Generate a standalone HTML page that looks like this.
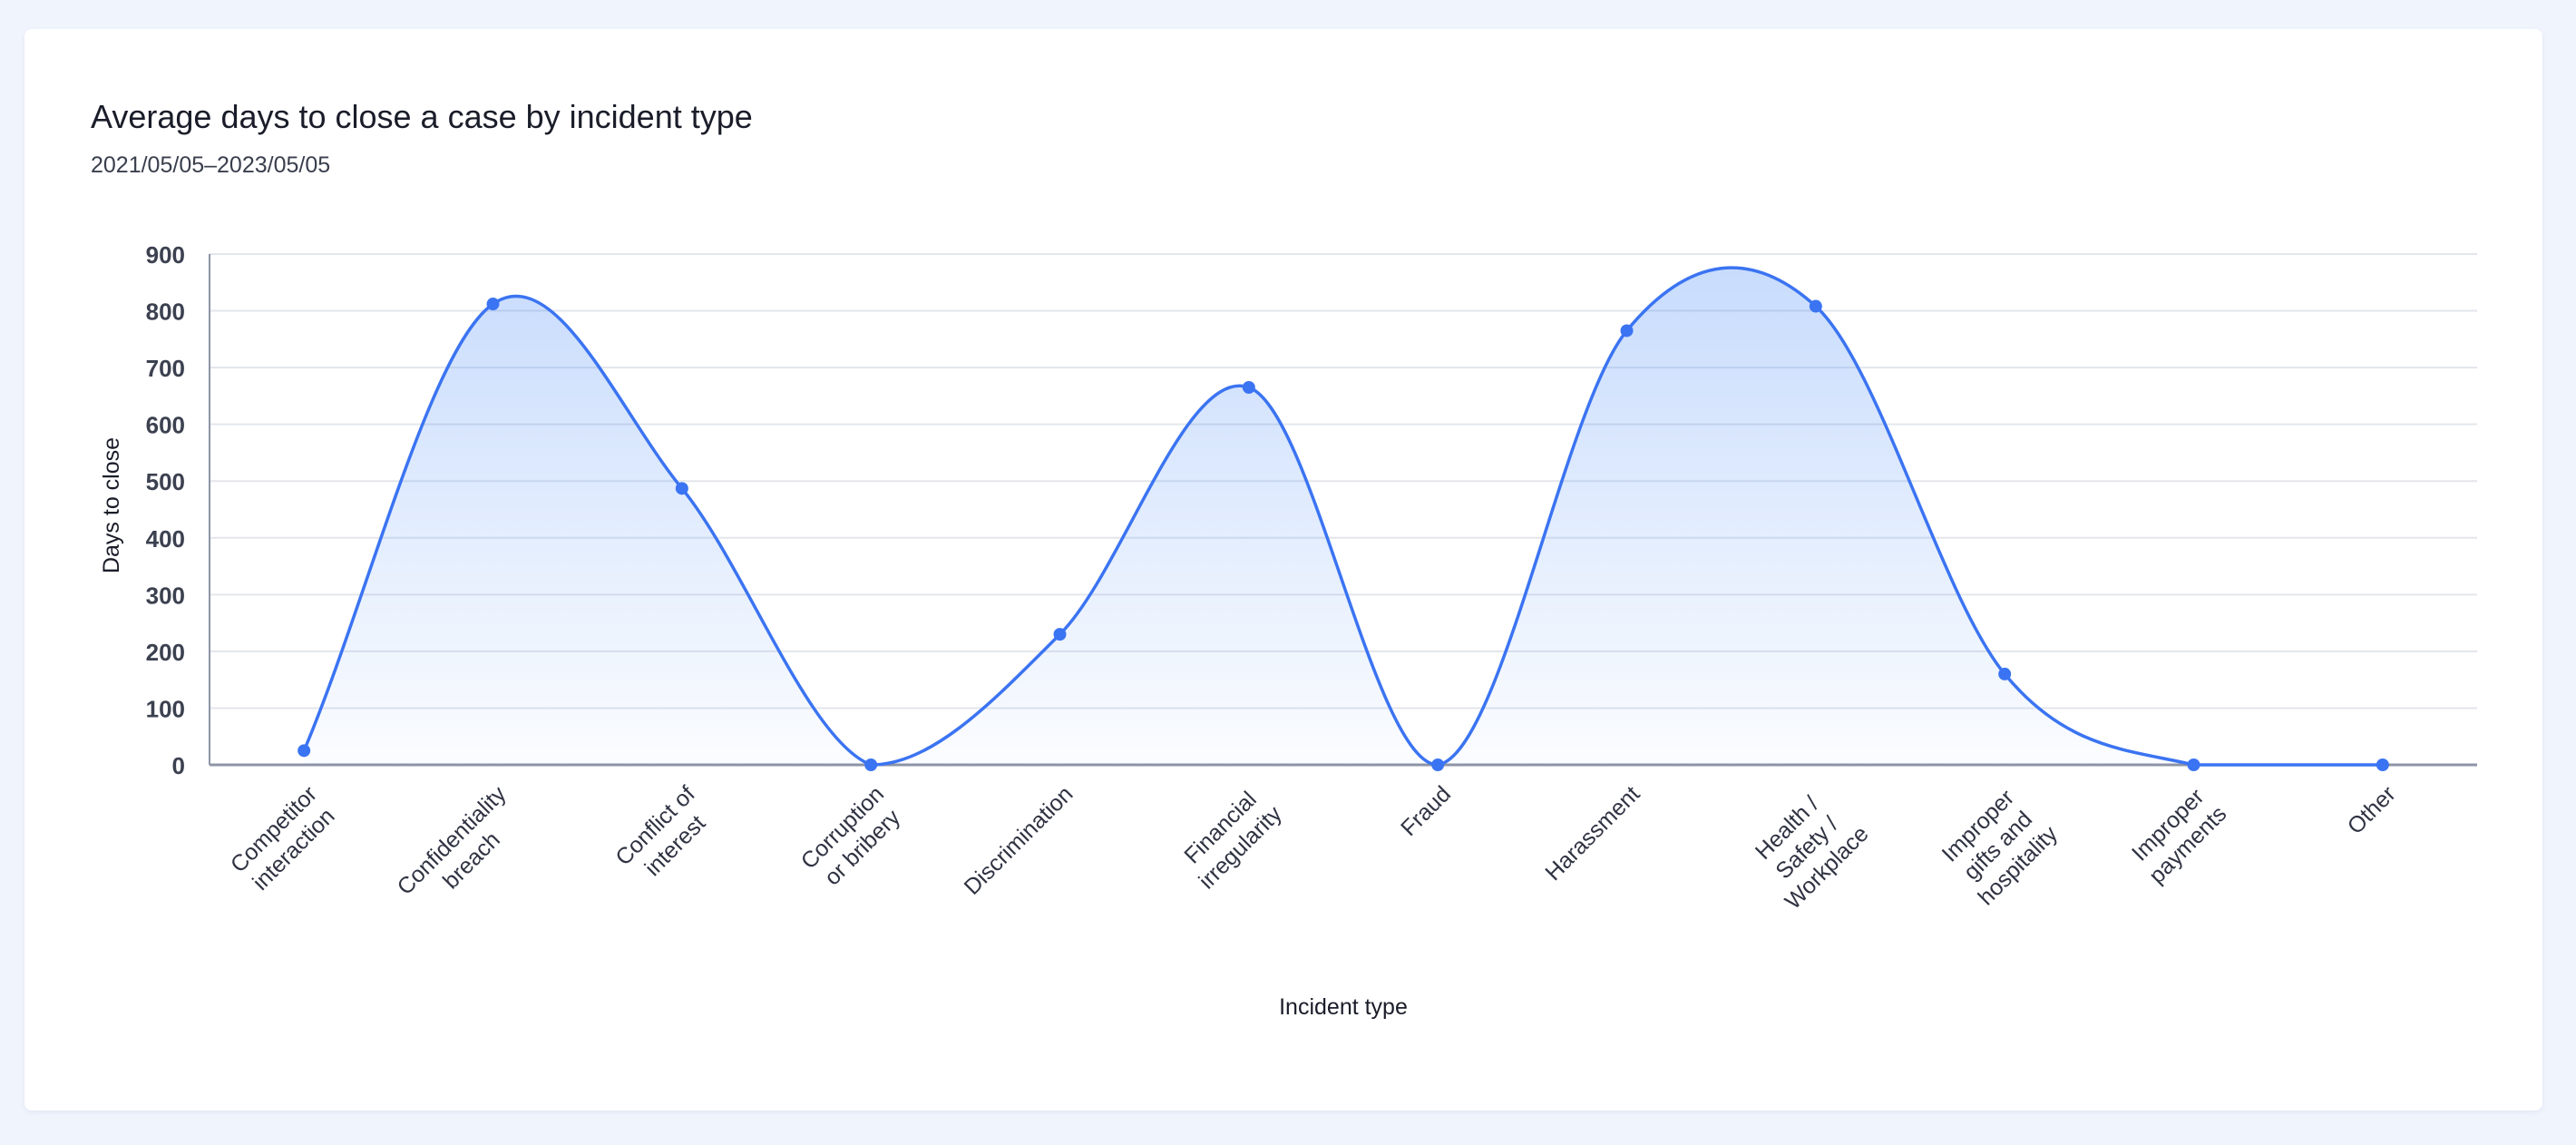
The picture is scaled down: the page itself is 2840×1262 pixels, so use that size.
<!DOCTYPE html>
<html><head><meta charset="utf-8">
<style>
html,body{margin:0;padding:0;background:#f0f4fd;}
body{width:2840px;height:1262px;position:relative;overflow:hidden;font-family:"Liberation Sans",sans-serif;}
.card{position:absolute;left:27px;top:32px;width:2776px;height:1192px;background:#fff;border-radius:8px;box-shadow:0 2px 6px rgba(60,80,140,0.08);}
.title{position:absolute;left:73px;top:76px;font-size:36px;color:#1a1d29;}
.sub{position:absolute;left:73px;top:136px;font-size:25px;color:#3a3f4d;}
svg{position:absolute;left:0;top:0;}
</style></head><body>
<div class="card">
<div class="title">Average days to close a case by incident type</div>
<div class="sub">2021/05/05–2023/05/05</div>
</div>
<svg id="chart" width="2840" height="1262">
<defs><linearGradient id="fillg" x1="0" y1="0" x2="0" y2="1">
<stop offset="0" stop-color="#3b82f6" stop-opacity="0.28"/>
<stop offset="1" stop-color="#3b82f6" stop-opacity="0.02"/></linearGradient></defs>
</svg>
<script>
const categories=[["Competitor","interaction"],["Confidentiality","breach"],["Conflict of","interest"],["Corruption","or bribery"],["Discrimination"],["Financial","irregularity"],["Fraud"],["Harassment"],["Health /","Safety /","Workplace"],["Improper","gifts and","hospitality"],["Improper","payments"],["Other"]];
const values=[25,812,487,0,230,665,0,765,808,160,0,0];
const yTicks=[0,100,200,300,400,500,600,700,800,900];

const svg=document.getElementById('chart');
const NS='http://www.w3.org/2000/svg';
const L=231,R=2731,T=280,B=843,yMax=900;
const bw=(R-L)/categories.length;
const xs=i=>L+bw*(i+0.5);
const ys=v=>B-(v/yMax)*(B-T);
function mk(tag,attrs,parent){const e=document.createElementNS(NS,tag);for(const k in attrs)e.setAttribute(k,attrs[k]);(parent||svg).appendChild(e);return e;}

yTicks.forEach(t=>{
 const g=mk('line',{x1:L,x2:R,y1:ys(t),y2:ys(t),stroke:'#e3e6ec','stroke-width':2});
 
 
 const tx=mk('text',{x:204,y:ys(t)+10,'text-anchor':'end','font-size':26,'font-weight':'bold',fill:'#3c4150'});
 tx.textContent=t;
 
 
});
const ya=mk('line',{x1:L,x2:L,y1:T,y2:B,stroke:'#8d94a5','stroke-width':2});


const xa=mk('line',{x1:L,x2:R,y1:B,y2:B,stroke:'#8d94a5','stroke-width':3});



// cardinal-like spline with clamping at baseline
const px=values.map((v,i)=>xs(i)),py=values.map(v=>ys(v));
const n=px.length,m=[];
for(let i=0;i<n;i++){
 const a=Math.max(0,i-1),b=Math.min(n-1,i+1);
 m.push((py[b]-py[a])/(px[b]-px[a]));
}
let path='M'+px[0]+','+py[0];
for(let i=0;i<n-1;i++){const h=(px[i+1]-px[i])/3;
 const c1=Math.min(B,py[i]+m[i]*h),c2=Math.min(B,py[i+1]-m[i+1]*h);
 path+=' C'+(px[i]+h)+','+c1+' '+(px[i+1]-h)+','+c2+' '+px[i+1]+','+py[i+1];}
const area=mk('path',{d:path+' L'+px[n-1]+','+B+' L'+px[0]+','+B+' Z',fill:'url(#fillg)'});


const line=mk('path',{d:path,fill:'none',stroke:'#3b74f2','stroke-width':3.5});


values.forEach((v,i)=>{
 const c=mk('circle',{cx:xs(i),cy:ys(v),r:7,fill:'#3b74f2'});
 
 
});

categories.forEach((lines,i)=>{
 const g=mk('g',{transform:'translate('+(xs(i)+10)+','+(B+28)+') rotate(-45)'});
 
 
 const texts=lines.map((s,j)=>{const t=mk('text',{y:j*31+8,'text-anchor':'middle','font-size':25,'font-weight':'500','font-family':'"Liberation Sans","Noto Sans CJK SC",sans-serif',fill:'#2f3342'},g);t.textContent=s;return t;});
 const w=Math.max(...texts.map(t=>t.getComputedTextLength()));
 texts.forEach(t=>t.setAttribute('x',-w/2));
});

const yt=mk('text',{transform:'translate(131,557) rotate(-90)','text-anchor':'middle','font-size':25,fill:'#1a1d29'});
yt.textContent='Days to close';


const xt=mk('text',{x:1481,y:1118,'text-anchor':'middle','font-size':25,fill:'#1a1d29'});
xt.textContent='Incident type';


</script>
</body></html>
